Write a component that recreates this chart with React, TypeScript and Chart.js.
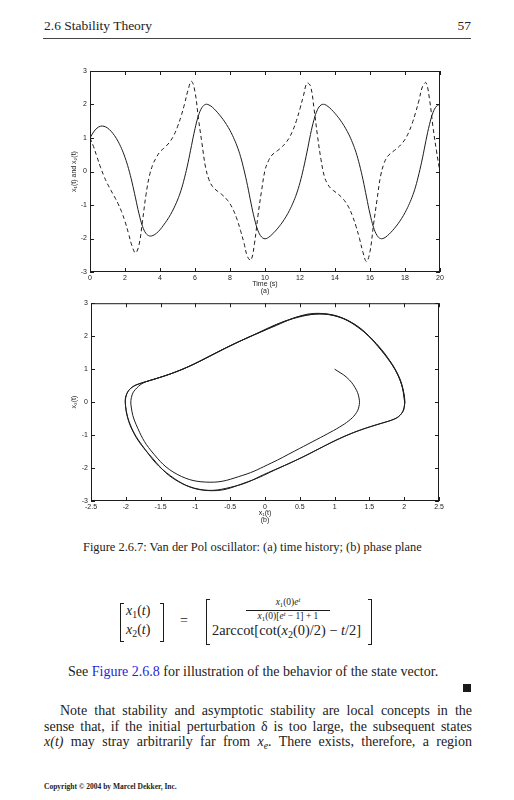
import React, { useEffect, useRef } from 'react';
import { Chart, registerables } from 'chart.js';

Chart.register(...registerables);

// ---- data (Van der Pol, x1(0)=1, x2(0)=1) ----
const TIME = [
  0, 0.2, 0.4, 0.6, 0.8, 1, 1.2, 1.4, 1.6, 1.8,
  2, 2.2, 2.4, 2.6, 2.8, 3, 3.2, 3.4, 3.6, 3.8,
  4, 4.2, 4.4, 4.6, 4.8, 5, 5.2, 5.4, 5.6, 5.8,
  6, 6.2, 6.4, 6.6, 6.8, 7, 7.2, 7.4, 7.6, 7.8,
  8, 8.2, 8.4, 8.6, 8.8, 9, 9.2, 9.4, 9.6, 9.8,
  10, 10.2, 10.4, 10.6, 10.8, 11, 11.2, 11.4, 11.6, 11.8,
  12, 12.2, 12.4, 12.6, 12.8, 13, 13.2, 13.4, 13.6, 13.8,
  14, 14.2, 14.4, 14.6, 14.8, 15, 15.2, 15.4, 15.6, 15.8,
  16, 16.2, 16.4, 16.6, 16.8, 17, 17.2, 17.4, 17.6, 17.8,
  18, 18.2, 18.4, 18.6, 18.8, 19, 19.2, 19.4, 19.6, 19.8,
  20,
];

const X1 = [
  1.0, 1.176, 1.295, 1.351, 1.349, 1.298, 1.204, 1.072, 0.902, 0.688,
  0.421, 0.089, -0.318, -0.789, -1.262, -1.635, -1.85, -1.924, -1.909, -1.842,
  -1.74, -1.603, -1.456, -1.287, -1.086, -0.852, -0.565, -0.19, 0.257, 0.773,
  1.276, 1.672, 1.911, 2.003, 1.986, 1.915, 1.81, 1.691, 1.557, 1.403,
  1.224, 1.012, 0.763, 0.451, 0.049, -0.418, -0.943, -1.416, -1.767, -1.953,
  -2.008, -1.967, -1.88, -1.773, -1.65, -1.51, -1.348, -1.159, -0.936, -0.67,
  -0.33, 0.096, 0.584, 1.108, 1.546, 1.848, 1.985, 2.002, 1.941, 1.848,
  1.735, 1.606, 1.46, 1.291, 1.096, 0.858, 0.573, 0.2, -0.246, -0.76,
  -1.264, -1.663, -1.907, -2.001, -1.988, -1.913, -1.813, -1.695, -1.561, -1.407,
  -1.229, -1.018, -0.77, -0.46, -0.06, 0.405, 0.93, 1.405, 1.76, 1.95,
  2.009,
];

const X2 = [
  1.0, 0.746, 0.435, 0.127, -0.142, -0.369, -0.566, -0.755, -0.957, -1.195,
  -1.49, -1.85, -2.22, -2.43, -2.19, -1.48, -0.69, -0.119, 0.22, 0.427,
  0.59, 0.686, 0.785, 0.913, 1.09, 1.336, 1.643, 2.011, 2.427, 2.692,
  2.375, 1.565, 0.833, 0.132, -0.246, -0.449, -0.552, -0.632, -0.718, -0.823,
  -0.964, -1.161, -1.427, -1.759, -2.135, -2.544, -2.645, -2.141, -1.306, -0.591,
  0.036, 0.322, 0.49, 0.578, 0.658, 0.75, 0.864, 1.02, 1.238, 1.524,
  1.878, 2.266, 2.636, 2.55, 1.88, 1.064, 0.356, -0.16, -0.394, -0.523,
  -0.604, -0.684, -0.783, -0.91, -1.085, -1.329, -1.635, -2.002, -2.416, -2.688,
  -2.388, -1.588, -0.85, -0.148, 0.24, 0.445, 0.55, 0.63, 0.715, 0.82,
  0.96, 1.155, 1.42, 1.75, 2.125, 2.535, 2.65, 2.16, 1.325, 0.61,
  -0.03,
];

const TIME_TICKS = [0, 2, 4, 6, 8, 10, 12, 14, 16, 18, 20];
const TIME_LABELS = ['0', '2', '4', '6', '8', '10', '12', '14', '16', '18', '20'];
const STATE_TICKS = [-3, -2, -1, 0, 1, 2, 3];
const STATE_LABELS = ['-3', '-2', '-1', '0', '1', '2', '3'];
const PHASE_X_TICKS = [-2.5, -2, -1.5, -1, -0.5, 0, 0.5, 1, 1.5, 2, 2.5];
const PHASE_X_LABELS = ['-2.5', '-2', '-1.5', '-1', '-0.5', '0', '0.5', '1', '1.5', '2', '2.5'];

const INK = '#1c1c1c';
const SANS = '"Liberation Sans", Arial, Helvetica, sans-serif';
const SERIF = '"Liberation Serif", "Times New Roman", serif';

// inward MATLAB-style ticks on all four sides plus the box
const frameTicks = {
  id: 'frameTicks',
  afterDatasetsDraw(chart: any) {
    const { ctx, chartArea: a, scales } = chart;
    const L = 4;
    ctx.save();
    ctx.strokeStyle = INK;
    ctx.lineWidth = 1;
    ctx.setLineDash([]);
    ctx.strokeRect(a.left + 0.5, a.top + 0.5, a.right - a.left - 1, a.bottom - a.top - 1);
    ctx.beginPath();
    for (const t of scales.x.ticks) {
      const p = Math.round(scales.x.getPixelForValue(t.value)) + 0.5;
      ctx.moveTo(p, a.bottom); ctx.lineTo(p, a.bottom - L);
      ctx.moveTo(p, a.top); ctx.lineTo(p, a.top + L);
    }
    for (const t of scales.y.ticks) {
      const p = Math.round(scales.y.getPixelForValue(t.value)) + 0.5;
      ctx.moveTo(a.left, p); ctx.lineTo(a.left + L, p);
      ctx.moveTo(a.right, p); ctx.lineTo(a.right - L, p);
    }
    ctx.stroke();
    ctx.restore();
  },
};

function axis(ticks: number[], labels: string[], title: string | string[], fit: (s: any) => void, pad: number) {
  return {
    type: 'linear',
    min: ticks[0],
    max: ticks[ticks.length - 1],
    afterBuildTicks: (s: any) => { s.ticks = ticks.map((v) => ({ value: v })); },
    afterFit: fit,
    grid: { display: false, drawTicks: false, tickLength: 0 },
    border: { display: false },
    ticks: {
      font: { family: SANS, size: 7 },
      color: '#1a1a1a',
      padding: pad,
      autoSkip: false,
      maxRotation: 0,
      callback: (_v: number, i: number) => labels[i],
    },
    title: {
      display: true,
      text: title,
      font: { family: SANS, size: 7, lineHeight: 1 },
      color: '#1a1a1a',
      padding: 0,
    },
  };
}

function timeConfig(): any {
  const solid = TIME.map((t, i) => ({ x: t, y: X1[i] }));
  const dashed = TIME.map((t, i) => ({ x: t, y: X2[i] }));
  return {
    type: 'line',
    data: {
      datasets: [
        { label: 'x1(t)', data: solid, borderColor: INK, borderWidth: 1, pointRadius: 0, tension: 0.4, fill: false },
        { label: 'x2(t)', data: dashed, borderColor: INK, borderWidth: 1, borderDash: [4, 3], pointRadius: 0, tension: 0.4, fill: false },
      ],
    },
    options: {
      animation: false,
      responsive: false,
      maintainAspectRatio: false,
      events: [],
      layout: { padding: { left: 71, right: 74, top: 11, bottom: 1.5 } },
      plugins: { legend: { display: false }, tooltip: { enabled: false } },
      scales: {
        x: axis(TIME_TICKS, TIME_LABELS, ['Time (s)', '(a)'], (s: any) => { s.height = 22.5; }, 2),
        y: axis(STATE_TICKS, STATE_LABELS, 'x\u2081(t) and x\u2082(t)', (s: any) => { s.width = 19; }, 3),
      },
    },
    plugins: [frameTicks],
  };
}

function phaseConfig(): any {
  const path = X1.map((x, i) => ({ x, y: X2[i] }));
  return {
    type: 'line',
    data: {
      datasets: [
        { label: 'phase', data: path, borderColor: INK, borderWidth: 1, pointRadius: 0, tension: 0.4, fill: false },
      ],
    },
    options: {
      animation: false,
      responsive: false,
      maintainAspectRatio: false,
      events: [],
      layout: { padding: { left: 71, right: 75, top: 5, bottom: 6.5 } },
      plugins: { legend: { display: false }, tooltip: { enabled: false } },
      scales: {
        x: axis(PHASE_X_TICKS, PHASE_X_LABELS, ['x\u2081(t)', '(b)'], (s: any) => { s.height = 22.5; }, 2),
        y: axis(STATE_TICKS, STATE_LABELS, 'x\u2082(t)', (s: any) => { s.width = 20; }, 3),
      },
    },
    plugins: [frameTicks],
  };
}

function ChartCanvas({ top, height, build }: { top: number; height: number; build: () => any }) {
  const ref = useRef<HTMLCanvasElement>(null);
  useEffect(() => {
    const chart = new Chart(ref.current as HTMLCanvasElement, build());
    return () => chart.destroy();
  }, []);
  return (
    <canvas
      ref={ref}
      width={514}
      height={height}
      style={{ position: 'absolute', left: 0, top, width: 514, height, display: 'block' }}
    />
  );
}

function Txt({ x, right, base, size, children, style }: any) {
  const pos: any = { position: 'absolute', top: base - 0.8375 * size, fontSize: size, lineHeight: `${size}px`, whiteSpace: 'nowrap' };
  if (right !== undefined) pos.right = right; else pos.left = x;
  return <div style={{ ...pos, ...style }}>{children}</div>;
}

const Sub = ({ children }: any) => (
  <span style={{ fontSize: '0.7em', position: 'relative', top: '0.3em', lineHeight: 0 }}>{children}</span>
);
const Sup = ({ children }: any) => (
  <span style={{ fontSize: '0.7em', position: 'relative', top: '-0.45em', lineHeight: 0 }}>{children}</span>
);

function Bracket({ left, top, height, side }: any) {
  const b = `1px solid ${INK}`;
  return (
    <div
      style={{
        position: 'absolute', left, top, width: 3, height,
        borderTop: b, borderBottom: b,
        borderLeft: side === 'l' ? b : 'none',
        borderRight: side === 'r' ? b : 'none',
      }}
    />
  );
}

export default function App() {
  const body = { fontFamily: SERIF, color: '#222' };
  const just: any = { width: 428, textAlign: 'justify', textAlignLast: 'justify', whiteSpace: 'normal' };
  return (
    <div style={{ position: 'absolute', left: 0, top: 0, width: 514, height: 800, background: '#fff', overflow: 'hidden', ...body }}>
      <Txt x={44} base={30} size={13.5}>2.6 Stability Theory</Txt>
      <Txt right={43} base={30} size={13.5}>57</Txt>
      <div style={{ position: 'absolute', left: 43, top: 38, width: 428, height: 1, background: '#444' }} />

      <ChartCanvas top={60} height={236} build={timeConfig} />
      <ChartCanvas top={296} height={234} build={phaseConfig} />

      <Txt x={83} base={551} size={12.4}>Figure 2.6.7: Van der Pol oscillator: (a) time history; (b) phase plane</Txt>

      {/* equation */}
      <Bracket left={120} top={603} height={37} side="l" />
      <Txt x={126} base={616} size={14}><i>x</i><Sub>1</Sub>(<i>t</i>)</Txt>
      <Txt x={126} base={635} size={14}><i>x</i><Sub>2</Sub>(<i>t</i>)</Txt>
      <Bracket left={160} top={603} height={37} side="r" />
      <Txt x={180} base={626} size={14}>=</Txt>
      <Bracket left={206} top={599} height={44} side="l" />
      <Txt x={246} base={606} size={9.5} style={{ width: 84, textAlign: 'center' }}><i>x</i><Sub>1</Sub>(0)<i>e</i><Sup><i>t</i></Sup></Txt>
      <div style={{ position: 'absolute', left: 246, top: 610, width: 84, height: 1, background: INK }} />
      <Txt x={246} base={619.5} size={9.5} style={{ width: 84, textAlign: 'center' }}><i>x</i><Sub>1</Sub>(0)[<i>e</i><Sup><i>t</i></Sup> − 1] + 1</Txt>
      <Txt x={212} base={635} size={14.4}>2arccot[cot(<i>x</i><Sub>2</Sub>(0)/2) − <i>t</i>/2]</Txt>
      <Bracket left={368} top={599} height={44} side="r" />

      <Txt x={68} base={677} size={14}>
        See <span style={{ color: '#1f1fd8' }}>Figure 2.6.8</span> for illustration of the behavior of the state vector.
      </Txt>
      <div style={{ position: 'absolute', left: 463, top: 684, width: 8, height: 8, background: '#1a1a1a' }} />

      <Txt x={44} base={716} size={14} style={{ ...just, textIndent: 16 }}>
        Note that stability and asymptotic stability are local concepts in the
      </Txt>
      <Txt x={44} base={731.5} size={14} style={just}>
        sense that, if the initial perturbation δ is too large, the subsequent states
      </Txt>
      <Txt x={44} base={747} size={14} style={just}>
        <i>x(t)</i> may stray arbitrarily far from <i>x</i><Sub><i>e</i></Sub>. There exists, therefore, a region
      </Txt>

      <Txt x={44} base={789} size={7.5} style={{ fontWeight: 'bold' }}>Copyright © 2004 by Marcel Dekker, Inc.</Txt>
    </div>
  );
}
